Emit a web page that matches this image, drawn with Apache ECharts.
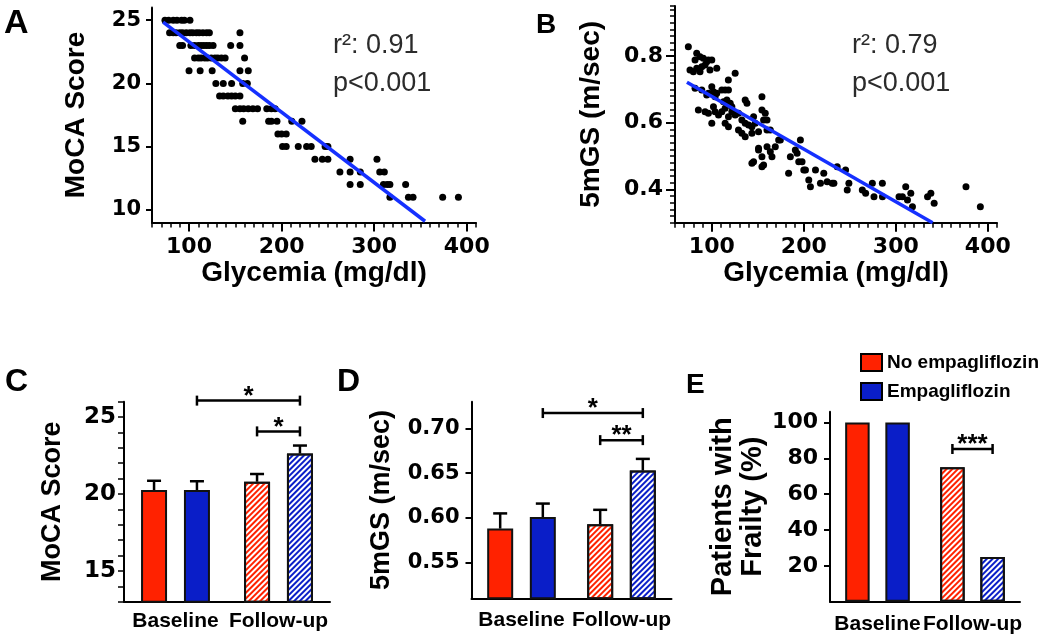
<!DOCTYPE html>
<html><head><meta charset="utf-8">
<script src="https://cdn.jsdelivr.net/npm/echarts@6/dist/echarts.min.js"></script>
<style>html,body{margin:0;padding:0;background:#fff}#c{width:1050px;height:635px}</style>
</head><body><div id="c"></div>
<script>
// ---------- Data ----------
// Panel A: MoCA score vs glycemia [glycemia, score]
const mocaPoints = [
  [74,25],[78,25],[83,25],[87,25],[92,25],[95,25],[101,25],
  [79,24],[83,24],[86,24],[90,24],[93,24],[97,24],[101,24],[104,24],[108,24],[111,24],[115,24],[119,24],[122,24],[155,24],
  [90,23],[93,23],[102,23],[106,23],[110,23],[113,23],[116,23],[119,23],[122,23],[126,23],[145,23],[155,23],
  [106,22],[110,22],[113,22],[117,22],[120,22],[124,22],[128,22],[131,22],[135,22],[139,22],[160,22],
  [100,21],[112,21],[125,21],[155,21],[164,21],
  [129,20],[137,20],[146,20],[158,20],[163,20],
  [133,19],[137,19],[142,19],[146,19],[150,19],[155,19],
  [150,18],[155,18],[159,18],[164,18],[169,18],[174,18],[184,18],[189,18],[193,18],
  [158,17],[186,17],[189,17],[195,17],[211,17],[222,17],
  [196,16],[200,16],[205,16],
  [201,15],[205,15],[218,15],[227,15],[232,15],[247,15],[250,15],
  [236,14],[244,14],[250,14],[274,14],[303,14],
  [263,13],[274,13],[285,13],[306,13],[311,13],
  [274,12],[285,12],[310,12],[314,12],[317,12],[334,12],
  [317,11],[337,11],[342,11],[374,11],[391,11]
];
const mocaFit = [[72,24.85],[355,9.1]];
const mocaStats = 'r²: 0.91\np<0.001';

// Panel B: 5mGS vs glycemia [glycemia, m/sec]
const gsPoints = [
  [74.5,0.828],[83.6,0.808],[87.2,0.798],[81.8,0.788],[90.8,0.793],[94.5,0.783],[96.3,0.788],[100,0.788],
  [76.3,0.758],[80,0.753],[83.6,0.763],[87.2,0.753],[89.1,0.768],[92.7,0.773],[98,0.758],[105.4,0.763],[125.4,0.748],
  [81.8,0.703],[89.1,0.698],[94.5,0.683],[96.3,0.688],[100,0.708],[101.8,0.693],[103.6,0.678],[105.4,0.688],
  [110.9,0.698],[114.5,0.698],[118.1,0.698],[118,0.728],
  [112.7,0.663],[116.4,0.668],[120,0.658],[121.8,0.648],[136.3,0.668],[138.2,0.658],[154.5,0.678],
  [85.4,0.638],[92.7,0.633],[96.3,0.628],[101.8,0.648],[103.6,0.633],[107.3,0.623],[110.9,0.633],[114.5,0.643],
  [118.1,0.618],[121.8,0.633],[125.4,0.623],[129,0.628],[132.7,0.608],[136.3,0.598],[140,0.593],[143.6,0.588],[147.2,0.598],
  [154.5,0.638],[158.1,0.628],[156.3,0.608],[160,0.608],
  [100,0.598],[114.5,0.598],[118.1,0.588],[129,0.578],[132.7,0.568],[136.3,0.558],
  [150.8,0.573],[160,0.578],[150.8,0.523],[160,0.528],[169,0.528],[172.7,0.548],
  [145.4,0.618],[143.6,0.568],[163.6,0.578],[174.5,0.548],
  [150.8,0.518],[163.6,0.513],[165.4,0.498],[154.5,0.498],[145.4,0.483],[143.6,0.478],[156.3,0.473],[154.5,0.468],
  [183.5,0.448],[185.4,0.498],[190.8,0.518],[192.7,0.508],[196.3,0.548],[194.5,0.483],[198.1,0.483],[200,0.458],[201.8,0.458],
  [205.4,0.428],[207.2,0.408],[212.7,0.458],[218.1,0.418],[221.7,0.448],[225.4,0.423],[230.9,0.418],[232.7,0.418],
  [236.3,0.468],[245.4,0.458],[247.2,0.398],[249,0.418],[263.6,0.398],[267.2,0.388],[274.5,0.418],[276.3,0.378],
  [285.4,0.418],[285.5,0.378],[303.5,0.378],[307.2,0.378],[310.8,0.408],[312.7,0.368],[316.3,0.388],[318.1,0.348],
  [334.5,0.378],[338.1,0.388],[341.7,0.358],[376.3,0.408],[391.9,0.348]
];
const gsFit = [[73,0.721],[340,0.30]];
const gsStats = 'r²: 0.79\np<0.001';

// Panels C-E: groups and treatment series
const groups = ['Baseline', 'Follow-up'];
const treatments = ['No empagliflozin', 'Empagliflozin'];
const mocaNoEmpa = [20.26, 20.8];
const mocaNoEmpaErr = [0.6, 0.5];
const mocaEmpa = [20.26, 22.63];
const mocaEmpaErr = [0.57, 0.52];
const gsNoEmpa = [0.588, 0.593];
const gsNoEmpaErr = [0.017, 0.016];
const gsEmpa = [0.601, 0.653];
const gsEmpaErr = [0.015, 0.013];
const frailNoEmpa = [100, 75];
const frailEmpa = [100, 25];
// significance brackets: [fromBar, toBar, yValue]; bars indexed 0..3 (group*2 + treatment)
const mocaSig = [[1,3,26.07],[2,3,24.07]];
const mocaSigLabels = ['*','*'];
const gsSig = [[1,3,0.7173],[2,3,0.687]];
const gsSigLabels = ['*','**'];
const frailSig = [[2,3,85.2]];
const frailSigLabels = ['***'];

// tick labels
const glyTicks = [100,200,300,400];
const mocaTicks = [10,15,20,25];
const gsTicks = [0.4,0.6,0.8];
const mocaBarTicks = [15,20,25];
const gsBarTicks = [0.55,0.60,0.65,0.70];
const frailTicks = [20,40,60,80,100];

// ---------- Styles ----------
const TF = 'DejaVu Sans', LF = 'Liberation Sans';
const RED = '#ff2200', BLUE = '#0a1ec8';
const axLine = {show:true, lineStyle:{color:'#000', width:2}};
function tickLbl(size, vals, fmt, margin){
  return {show:true, customValues: vals, fontFamily:TF, fontWeight:'bold', fontSize:size, color:'#000', margin: margin, formatter: fmt};
}
function nameStyle(size){ return {fontFamily:LF, fontWeight:'bold', fontSize:size, color:'#000'}; }

const chart = echarts.init(document.getElementById('c'), null, {renderer:'canvas'});

function hatch(color){
  return {color:'#ffffff', borderColor:'#111', borderWidth:2,
    decal:{symbol:'rect', color:color, dashArrayX:[1,0], dashArrayY:[2,2], rotation:-Math.PI/4, symbolSize:1}};
}
function barData(vals, color){
  return vals.map((v,i)=> i===0 ? {value:v} : {value:v, itemStyle:hatch(color)});
}
function errRender(off){
  return function(params, api){
    const c = api.value(0), m = api.value(1), e = api.value(2);
    const p0 = api.coord([c, m]), p1 = api.coord([c, m+e]);
    const x = p0[0] + off;
    return {type:'group', children:[
      {type:'line', shape:{x1:x, y1:p0[1], x2:x, y2:p1[1]}, style:{stroke:'#000', lineWidth:2.5}},
      {type:'line', shape:{x1:x-7, y1:p1[1], x2:x+7, y2:p1[1]}, style:{stroke:'#000', lineWidth:2.5}}
    ]};
  };
}
function bracketRender(half, labels){
  return function(params, api){
    const a = api.value(0), b = api.value(1), y = api.value(2);
    const xa = api.coord([Math.floor(a/2), y])[0] + (a%2 ? half : -half);
    const xb = api.coord([Math.floor(b/2), y])[0] + (b%2 ? half : -half);
    const py = api.coord([0, y])[1];
    return {type:'group', children:[
      {type:'line', shape:{x1:xa, y1:py, x2:xb, y2:py}, style:{stroke:'#000', lineWidth:2.5}},
      {type:'line', shape:{x1:xa, y1:py-5, x2:xa, y2:py+5}, style:{stroke:'#000', lineWidth:2.5}},
      {type:'line', shape:{x1:xb, y1:py-5, x2:xb, y2:py+5}, style:{stroke:'#000', lineWidth:2.5}},
      {type:'text', style:{text:labels[params.dataIndex], x:(xa+xb)/2, y:py-4, align:'center', verticalAlign:'middle',
        fontFamily:LF, fontWeight:'bold', fontSize:26, fill:'#000'}}
    ]};
  };
}

function catAxis(grid, margin){
  return {type:'category', gridIndex:grid, position:'bottom', data:groups, axisLine:axLine, axisTick:{show:false},
    axisLabel:{interval:0, hideOverlap:false, fontFamily:LF, fontWeight:'bold', fontSize:21, color:'#000', margin:margin}, splitLine:{show:false}};
}

const W = {C:26, D:26, E:24.5};
const G = {C:0.65, D:0.64, E:0.64};
function half(k){ return W[k]*(1+G[k])/2; }

const option = {
  backgroundColor:'#fff',
  animation:false,
  title:[
    {text:'A', left:4, top:7, padding:0, textStyle:{fontFamily:LF, fontWeight:'bold', fontSize:34, color:'#000'}},
    {text:'B', left:536, top:11, padding:0, textStyle:{fontFamily:LF, fontWeight:'bold', fontSize:28, color:'#000'}},
    {text:'C', left:5, top:366, padding:0, textStyle:{fontFamily:LF, fontWeight:'bold', fontSize:32, color:'#000'}},
    {text:'D', left:337, top:366, padding:0, textStyle:{fontFamily:LF, fontWeight:'bold', fontSize:32, color:'#000'}},
    {text:'E', left:686, top:371, padding:0, textStyle:{fontFamily:LF, fontWeight:'bold', fontSize:28, color:'#000'}},
    {text:mocaStats, left:333, top:27, padding:0, textStyle:{fontFamily:LF, fontWeight:'normal', fontSize:27, lineHeight:38, color:'#2b2b2b'}},
    {text:gsStats, left:852, top:27, padding:0, textStyle:{fontFamily:LF, fontWeight:'normal', fontSize:27, lineHeight:38, color:'#2b2b2b'}}
  ],
  legend:{data:treatments, orient:'vertical', left:855, top:348, itemWidth:21, itemHeight:17, itemGap:10, icon:'rect',
    itemStyle:{borderColor:'#000', borderWidth:2},
    textStyle:{fontFamily:LF, fontWeight:'bold', fontSize:19, color:'#000'}, selectedMode:false},
  grid:[
    {left:152, top:7.5, width:324, height:215},
    {left:675, top:6, width:322, height:216.7},
    {left:124, top:401.7, width:206, height:200},
    {left:471.5, top:401.7, width:200, height:196.6},
    {left:830, top:411.7, width:190, height:190}
  ],
  xAxis:[
    {type:'value', gridIndex:0, position:'bottom', min:60, max:410, interval:10, axisLine:axLine,
      axisTick:{show:true, length:5, lineStyle:{color:'#000', width:1.5}},
      axisLabel:tickLbl(22, glyTicks, v=>String(v), 14), splitLine:{show:false},
      name:'Glycemia (mg/dl)', nameLocation:'middle', nameGap:34, nameTextStyle:nameStyle(28)},
    {type:'value', gridIndex:0, position:'bottom', offset:0, min:60, max:410, axisLine:{show:false},
      axisTick:{show:true, customValues:glyTicks, length:9, lineStyle:{color:'#000', width:2}},
      axisLabel:{show:false}, splitLine:{show:false}},
    {type:'value', gridIndex:1, position:'bottom', min:60, max:410, interval:10, axisLine:axLine,
      axisTick:{show:true, length:5, lineStyle:{color:'#000', width:1.5}},
      axisLabel:tickLbl(22, glyTicks, v=>String(v), 14), splitLine:{show:false},
      name:'Glycemia (mg/dl)', nameLocation:'middle', nameGap:34, nameTextStyle:nameStyle(28)},
    {type:'value', gridIndex:1, position:'bottom', offset:0, min:60, max:410, axisLine:{show:false},
      axisTick:{show:true, customValues:glyTicks, length:9, lineStyle:{color:'#000', width:2}},
      axisLabel:{show:false}, splitLine:{show:false}},
    catAxis(2, 9), catAxis(3, 11), catAxis(4, 12)
  ],
  yAxis:[
    {type:'value', gridIndex:0, position:'left', min:9, max:26, axisLine:axLine,
      axisTick:{show:true, customValues:mocaTicks, length:6, lineStyle:{color:'#000', width:2}},
      axisLabel:tickLbl(21, mocaTicks, v=>String(v), 11), splitLine:{show:false},
      name:'MoCA Score', nameLocation:'middle', nameGap:62, nameTextStyle:nameStyle(28)},
    {type:'value', gridIndex:1, position:'left', min:0.3, max:0.95, interval:0.02, axisLine:axLine,
      axisTick:{show:true, length:5, lineStyle:{color:'#000', width:1.5}},
      axisLabel:tickLbl(22, gsTicks, v=>v.toFixed(1), 12), splitLine:{show:false},
      name:'5mGS (m/sec)', nameLocation:'middle', nameGap:70, nameTextStyle:nameStyle(28)},
    {type:'value', gridIndex:1, position:'left', offset:0, min:0.3, max:0.95, axisLine:{show:false},
      axisTick:{show:true, customValues:gsTicks, length:9, lineStyle:{color:'#000', width:2}},
      axisLabel:{show:false}, splitLine:{show:false}},
    {type:'value', gridIndex:2, position:'left', min:13, max:26, interval:1, axisLine:axLine,
      axisTick:{show:true, length:6, lineStyle:{color:'#000', width:1.5}},
      axisLabel:tickLbl(23, mocaBarTicks, v=>String(v), 8), splitLine:{show:false},
      name:'MoCA Score', nameLocation:'middle', nameGap:58, nameTextStyle:nameStyle(27)},
    {type:'value', gridIndex:3, position:'left', min:0.51, max:0.73, axisLine:axLine,
      axisTick:{show:true, customValues:gsBarTicks, length:6, lineStyle:{color:'#000', width:2}},
      axisLabel:tickLbl(21, gsBarTicks, v=>v.toFixed(2), 12), splitLine:{show:false},
      name:'5mGS (m/sec)', nameLocation:'middle', nameGap:76, nameTextStyle:nameStyle(27)},
    {type:'value', gridIndex:4, position:'left', min:0, max:106, axisLine:axLine,
      axisTick:{show:true, customValues:frailTicks, length:6, lineStyle:{color:'#000', width:2}},
      axisLabel:tickLbl(22, frailTicks, v=>String(v), 12), splitLine:{show:false},
      name:'Patients with\nFrailty (%)', nameLocation:'middle', nameGap:62,
      nameTextStyle:Object.assign(nameStyle(29), {lineHeight:30})}
  ],
  series:[
    {type:'scatter', xAxisIndex:0, yAxisIndex:0, data:mocaPoints, symbolSize:7, itemStyle:{color:'#000', opacity:1}, z:3},
    {type:'line', xAxisIndex:0, yAxisIndex:0, data:mocaFit, showSymbol:false, symbol:'none', lineStyle:{color:'#1530ff', width:3.5}, z:4},
    {type:'scatter', xAxisIndex:2, yAxisIndex:1, data:gsPoints, symbolSize:7, itemStyle:{color:'#000', opacity:1}, z:3},
    {type:'line', xAxisIndex:2, yAxisIndex:1, data:gsFit, showSymbol:false, symbol:'none', lineStyle:{color:'#1530ff', width:3.5}, z:4},

    // C
    {type:'bar', name:treatments[0], xAxisIndex:4, yAxisIndex:3, data:barData(mocaNoEmpa, RED), barWidth:W.C, barGap:(G.C*100)+'%',
      itemStyle:{color:RED, borderColor:'#111', borderWidth:2}},
    {type:'bar', name:treatments[1], xAxisIndex:4, yAxisIndex:3, data:barData(mocaEmpa, BLUE), barWidth:W.C, barGap:(G.C*100)+'%',
      itemStyle:{color:BLUE, borderColor:'#111', borderWidth:2}},
    {type:'custom', xAxisIndex:4, yAxisIndex:3, renderItem:errRender(-half('C')), data:groups.map((g,i)=>[i, mocaNoEmpa[i], mocaNoEmpaErr[i]]), z:5, clip:false},
    {type:'custom', xAxisIndex:4, yAxisIndex:3, renderItem:errRender(half('C')), data:groups.map((g,i)=>[i, mocaEmpa[i], mocaEmpaErr[i]]), z:5, clip:false},
    {type:'custom', xAxisIndex:4, yAxisIndex:3, renderItem:bracketRender(half('C'), mocaSigLabels), data:mocaSig, z:5, clip:false},

    // D
    {type:'bar', name:treatments[0], xAxisIndex:5, yAxisIndex:4, data:barData(gsNoEmpa, RED), barWidth:W.D, barGap:(G.D*100)+'%',
      itemStyle:{color:RED, borderColor:'#111', borderWidth:2}},
    {type:'bar', name:treatments[1], xAxisIndex:5, yAxisIndex:4, data:barData(gsEmpa, BLUE), barWidth:W.D, barGap:(G.D*100)+'%',
      itemStyle:{color:BLUE, borderColor:'#111', borderWidth:2}},
    {type:'custom', xAxisIndex:5, yAxisIndex:4, renderItem:errRender(-half('D')), data:groups.map((g,i)=>[i, gsNoEmpa[i], gsNoEmpaErr[i]]), z:5, clip:false},
    {type:'custom', xAxisIndex:5, yAxisIndex:4, renderItem:errRender(half('D')), data:groups.map((g,i)=>[i, gsEmpa[i], gsEmpaErr[i]]), z:5, clip:false},
    {type:'custom', xAxisIndex:5, yAxisIndex:4, renderItem:bracketRender(half('D'), gsSigLabels), data:gsSig, z:5, clip:false},

    // E
    {type:'bar', name:treatments[0], xAxisIndex:6, yAxisIndex:5, data:barData(frailNoEmpa, RED), barWidth:W.E, barGap:(G.E*100)+'%',
      itemStyle:{color:RED, borderColor:'#111', borderWidth:2}},
    {type:'bar', name:treatments[1], xAxisIndex:6, yAxisIndex:5, data:barData(frailEmpa, BLUE), barWidth:W.E, barGap:(G.E*100)+'%',
      itemStyle:{color:BLUE, borderColor:'#111', borderWidth:2}},
    {type:'custom', xAxisIndex:6, yAxisIndex:5, renderItem:bracketRender(half('E'), frailSigLabels), data:frailSig, z:5, clip:false}
  ]
};
chart.setOption(option);
</script>
</body></html>
